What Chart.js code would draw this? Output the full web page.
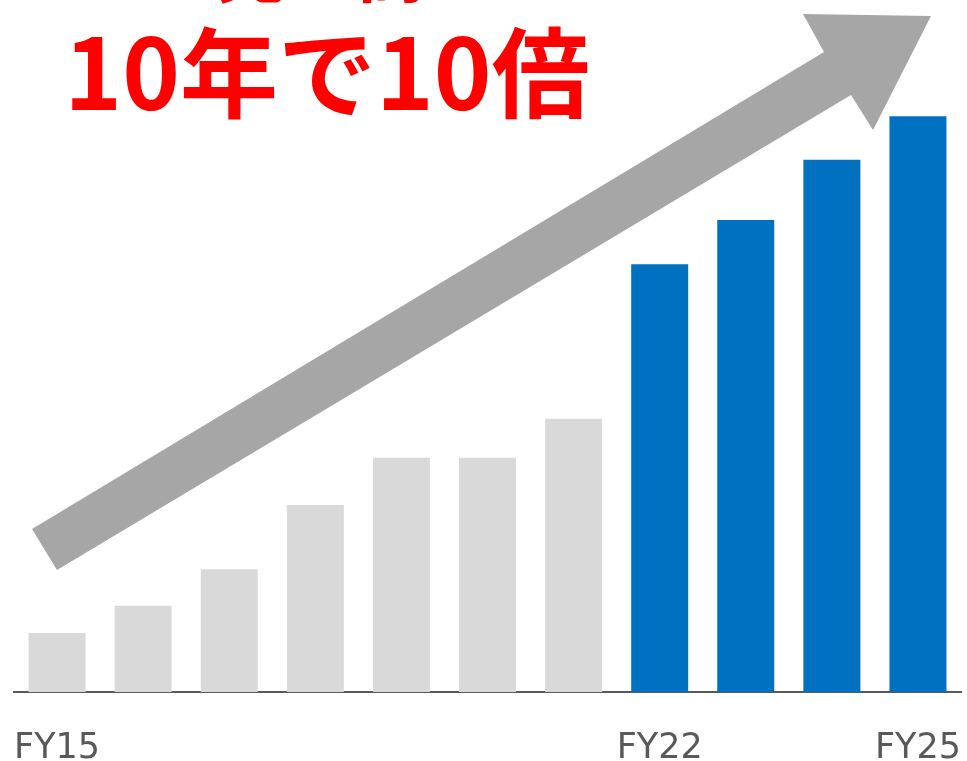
<!DOCTYPE html>
<html lang="ja">
<head>
  <meta charset="UTF-8" />
  <title>売上高 10年で10倍</title>
  <script src="https://cdn.jsdelivr.net/npm/chart.js"></script>
  <style>
    html, body {
      margin: 0;
      padding: 0;
      background: #ffffff;
      overflow: hidden;
    }
    #chart {
      display: block;
    }
  </style>
</head>
<body>
  <canvas id="chart" width="967" height="798"></canvas>
  <script>
    // Data (index, FY15 = 100)
    const years = ['FY15', 'FY16', 'FY17', 'FY18', 'FY19', 'FY20', 'FY21', 'FY22', 'FY23', 'FY24', 'FY25'];
    const sales = [100, 146, 208, 317, 397, 397, 463, 725, 800, 902, 976];
    const shownLabels = ['FY15', 'FY22', 'FY25'];
    const highlightFrom = 'FY22';

    const grey = '#d9d9d9';
    const blue = '#0070c0';
    const barColors = years.map((y, i) => i >= years.indexOf(highlightFrom) ? blue : grey);

    // headline and the big grey arrow
    const decor = {
      id: 'decor',
      beforeDatasetsDraw(chart) {
        const ctx = chart.ctx;
        ctx.save();
        ctx.fillStyle = '#a6a6a6';
        ctx.beginPath();
        ctx.moveTo(57, 570);
        ctx.lineTo(32, 529);
        ctx.lineTo(824, 52);
        ctx.lineTo(803, 14);
        ctx.lineTo(931, 16);
        ctx.lineTo(873, 130);
        ctx.lineTo(851, 95);
        ctx.closePath();
        ctx.fill();

        ctx.fillStyle = '#ff0000';
        ctx.textAlign = 'center';
        ctx.textBaseline = 'alphabetic';
        ctx.font = 'bold 70px "Noto Sans CJK JP"';
        ctx.fillText('売上高', 321, -3);
        ctx.font = 'bold 98px "Noto Sans CJK JP"';
        ctx.fillText('10年で10倍', 327, 110);
        ctx.restore();
      }
    };

    new Chart(document.getElementById('chart'), {
      type: 'bar',
      data: {
        labels: years,
        datasets: [{
          data: sales,
          backgroundColor: barColors,
          categoryPercentage: 1,
          barPercentage: 0.662
        }]
      },
      options: {
        responsive: false,
        animation: false,
        layout: { padding: { left: 14, right: 6, top: 0, bottom: 0 } },
        plugins: {
          legend: { display: false },
          tooltip: { enabled: false }
        },
        scales: {
          x: {
            grid: { display: false },
            border: { display: true, color: '#595959', width: 2 },
            afterFit(scale) {
              scale.paddingLeft = 0;
              scale.paddingRight = 0;
            },
            ticks: {
              autoSkip: false,
              maxRotation: 0,
              padding: 28,
              color: '#595959',
              font: { family: 'DejaVu Sans', size: 35 },
              callback(value) {
                const lab = this.getLabelForValue(value);
                return shownLabels.includes(lab) ? lab : '';
              }
            }
          },
          y: {
            display: false,
            min: 0,
            max: 1173
          }
        }
      },
      plugins: [decor]
    });
  </script>
</body>
</html>
